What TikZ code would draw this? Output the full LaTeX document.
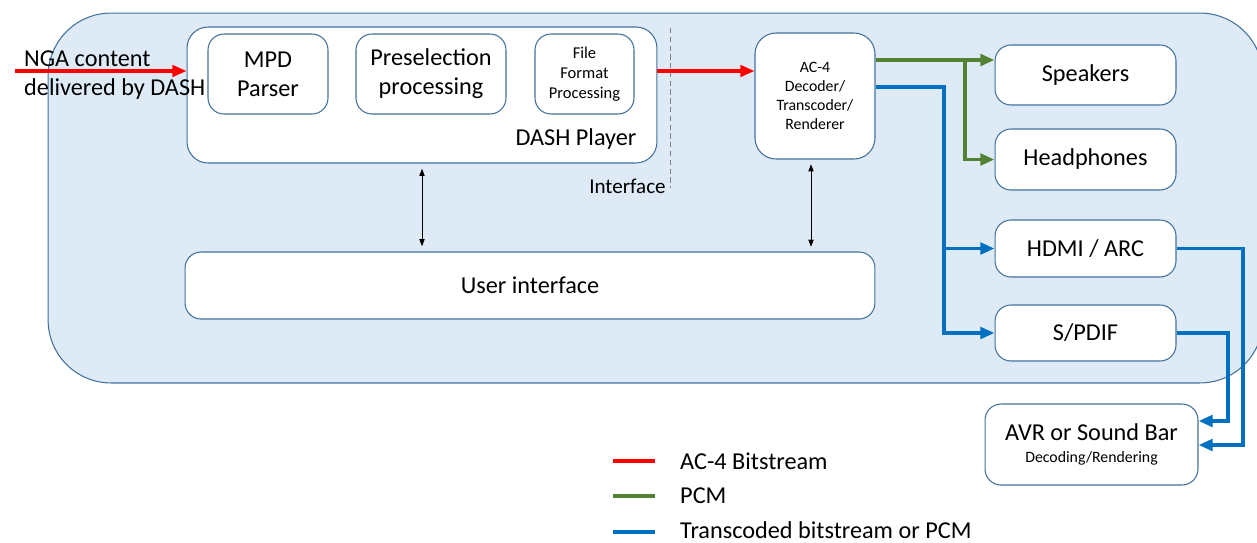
\documentclass[tikz,border=0pt]{standalone}
\usepackage{fontspec}
\setmainfont{Carlito}
\usetikzlibrary{arrows.meta}
\definecolor{boxline}{HTML}{41719C}
\definecolor{boxfill}{HTML}{DEEBF7}
\definecolor{acred}{HTML}{FF0000}
\definecolor{pcmgreen}{HTML}{548235}
\definecolor{tcblue}{HTML}{0070C0}
\begin{document}
\begin{tikzpicture}[x=0.02cm, y=-0.02cm]
\tikzset{unit/.style={draw=boxline, line width=0.6pt, fill=white, rounded corners=0.32cm, inner sep=0pt, align=center, font=\fontsize{13.8}{16.4}\selectfont},
  small/.style={font=\fontsize{9.4}{11.3}\selectfont},
  redline/.style={draw=acred, line width=1.8pt},
  greenline/.style={draw=pcmgreen, line width=2pt},
  blueline/.style={draw=tcblue, line width=2.2pt},
  tip/.style={-{Triangle[length=8pt, width=6.5pt]}},
  uiarrow/.style={{Triangle[length=4pt, width=3pt]}-{Triangle[length=4pt, width=3pt]}, line width=0.4pt, shorten <=3pt, shorten >=3pt},
  lbl/.style={font=\fontsize{13.8}{16.4}\selectfont}}
\useasboundingbox (0,0) rectangle (1257,542);
\clip (0,0) rectangle (1257,542);
\node[unit, fill=boxfill, rounded corners=1.26cm, minimum width=24.3cm, minimum height=7.4cm] (device) at (655.5,198) {};
\node[unit, rounded corners=0.42cm, minimum width=9.4cm, minimum height=2.72cm] (player) at (422,95) {};
\node[unit, minimum width=2.4cm, minimum height=1.6cm] (mpd) at (268,74) {MPD\\Parser};
\node[unit, minimum width=3cm, minimum height=1.6cm] (presel) at (431,74) {Preselection\\processing};
\node[unit, small, minimum width=1.98cm, minimum height=1.6cm] (ffp) at (584.5,74) {File\\Format\\Processing};
\node[lbl] (playerlbl) at (576,139) {DASH Player};
\node[unit, rounded corners=0.42cm, font=\fontsize{9}{10.8}\selectfont, minimum width=2.4cm, minimum height=2.52cm] (ac4) at (815,96) {AC-4\\Decoder/\\Transcoder/\\Renderer};
\node[unit, minimum width=3.62cm, minimum height=1.2cm] (spk) at (1085.5,75) {Speakers};
\node[unit, minimum width=3.62cm, minimum height=1.22cm] (hp) at (1085.5,159.5) {Headphones};
\node[unit, minimum width=3.62cm, minimum height=1.14cm] (hdmi) at (1085.5,248.5) {HDMI / ARC};
\node[unit, minimum width=3.62cm, minimum height=1.12cm] (spdif) at (1085.5,333) {S/PDIF};
\node[unit, minimum width=13.8cm, minimum height=1.34cm] (ui) at (530,285.5) {User interface};
\node[unit, minimum width=4.26cm, minimum height=1.62cm] (avr) at (1091.5,444.5) {AVR or Sound Bar\\[-4pt]{\fontsize{9}{10}\selectfont Decoding/Rendering}};
\node[lbl, anchor=west, align=left] (nga) at (18,75) {NGA content\\delivered by DASH};
\coordinate (itop) at (670,28);
\coordinate (ibot) at (670,188);
\draw[densely dashed, line width=0.4pt, gray] (itop) -- (ibot);
\node[anchor=east, inner sep=0pt, font=\fontsize{12}{14}\selectfont] (iface) at (666,186) {Interface};
\coordinate (src) at (15,71);
\draw[redline, tip] (src) -- (src -| player.west);
\draw[redline, tip] (src -| player.east) -- (src -| ac4.west);
\coordinate (gsplit) at (965,60);
\draw[greenline, tip] (gsplit -| ac4.east) -- (gsplit -| spk.west);
\draw[greenline, tip] (gsplit) |- (hp.west);
\coordinate (bsplit) at (944,87);
\draw[blueline, tip] (bsplit -| ac4.east) -- (bsplit) |- (spdif.west);
\draw[blueline, tip] (bsplit |- hdmi.west) -- (hdmi.west);
\coordinate (hr) at (1243,445);
\coordinate (sr) at (1228,421);
\draw[blueline, tip] (hdmi.east) -| (hr) -- (hr -| avr.east);
\draw[blueline, tip] (spdif.east) -| (sr) -- (sr -| avr.east);
\draw[uiarrow] (player.south) -- (player.south |- ui.north);
\draw[uiarrow] (811,159) -- (811,252);
\coordinate (lg1) at (613,461);
\coordinate (lg2) at (613,496);
\coordinate (lg3) at (613,532);
\draw[redline] (lg1) -- ++(42,0);
\draw[greenline] (lg2) -- ++(42,0);
\draw[blueline] (lg3) -- ++(42,0);
\node[lbl, anchor=west] (lgred) at (674,461) {AC-4 Bitstream};
\node[lbl, anchor=west] (lggreen) at (674,496) {PCM};
\node[lbl, anchor=west] (lgblue) at (674,530) {Transcoded bitstream or PCM};
\end{tikzpicture}
\end{document}
